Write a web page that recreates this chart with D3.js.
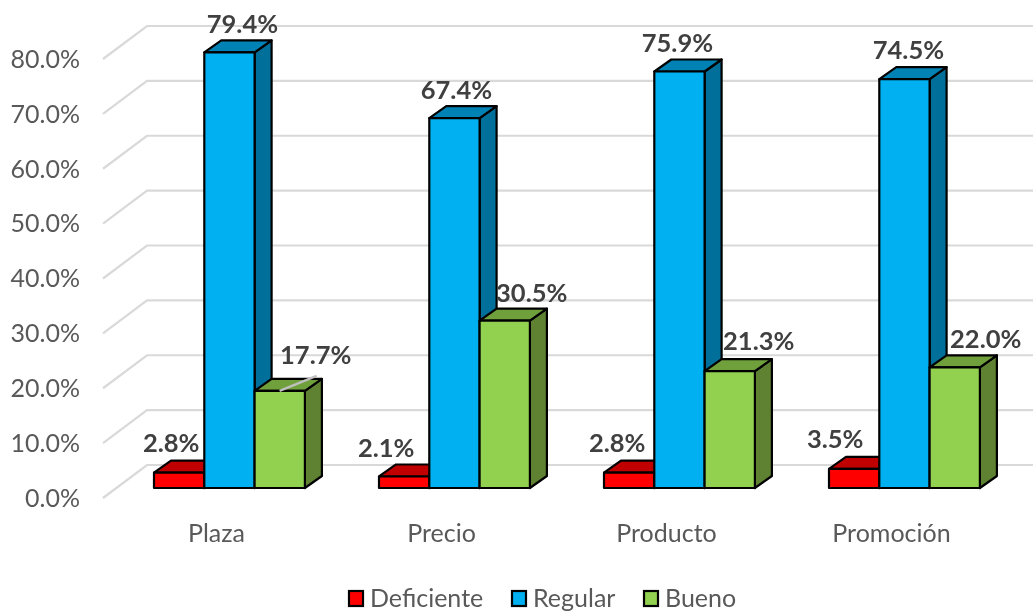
<!DOCTYPE html>
<html>
<head>
<meta charset="utf-8">
<script src="https://cdn.jsdelivr.net/npm/d3@7"></script>
<style>
  html, body { margin: 0; padding: 0; background: #fff; overflow: hidden; }
  text { font-family: Lato, "Open Sans", sans-serif; }
  svg { filter: blur(0.4px); }
</style>
</head>
<body>
<div id="chart"></div>
<script>
// values
var categories = ["Plaza", "Precio", "Producto", "Promoción"];
var seriesNames = ["Deficiente", "Regular", "Bueno"];
var deficiente = [2.8, 2.1, 2.8, 3.5];
var regular = [79.4, 67.4, 75.9, 74.5];
var bueno = [17.7, 30.5, 21.3, 22.0];
var yTicks = [0, 10, 20, 30, 40, 50, 60, 70, 80];

var seriesValues = [deficiente, regular, bueno];
var faceColors = ["#ff0000", "#00b0f0", "#92d050"];
var topColors = ["#c00000", "#0083b4", "#6fa03c"];
var sideColors = ["#a80000", "#006f99", "#5f8232"];

// label nudges from the bar centre, [dx, dy], per series then per category
var labelNudge = [
  [[-8, -30], [-18, -28], [-12, -30], [-19, -30]],
  [[13, -28], [2, -28], [-2, -28], [4, -29]],
  [[36, -36], [27, -28], [29, -30], [31, -28]]
];

var width = 1033, height = 611;
var depthX = 17, depthY = 12;

var svg = d3.select("#chart").append("svg")
  .attr("width", width)
  .attr("height", height);

// y scale is for the front face of the bars
var y = d3.scaleLinear().domain([0, 80]).range([488, 49]);

// x scale: each band holds the three bars of a category
var x = d3.scaleBand()
  .domain(categories)
  .range([154, 1054])
  .paddingInner(0);
var barW = 50.3;

var x1 = d3.scaleBand()
  .domain(d3.range(3))
  .range([0, barW * 3]);

// gridlines: floor goes from the front left corner to the back wall
var grid = svg.append("g");
yTicks.forEach(function(t) {
  var yy = y(t) + 10;
  grid.append("path")
    .attr("d", "M103," + yy + "L147," + (yy - 33) + "L" + width + "," + (yy - 33))
    .attr("fill", "none")
    .attr("stroke", "#d9d9d9")
    .attr("stroke-width", 2.2);
  svg.append("text")
    .attr("x", 80)
    .attr("y", yy)
    .attr("dy", "0.35em")
    .attr("text-anchor", "end")
    .attr("font-size", 25)
    .attr("fill", "#595959")
    .text(t.toFixed(1) + "%");
});

// bars, drawn in order so the next one covers the side of the last
var bars = svg.append("g");
categories.forEach(function(c, i) {
  seriesValues.forEach(function(vals, s) {
    var x0 = x(c) + x1(s), x2 = x0 + barW;
    var top = y(vals[i]), bot = y(0);
    var g = bars.append("g")
      .attr("stroke", "#000")
      .attr("stroke-width", 2.2)
      .attr("stroke-linejoin", "round");
    g.append("path")
      .attr("fill", sideColors[s])
      .attr("d", "M" + x2 + "," + top + "L" + (x2 + depthX) + "," + (top - depthY) +
        "L" + (x2 + depthX) + "," + (bot - depthY) + "L" + x2 + "," + bot + "Z");
    g.append("path")
      .attr("fill", topColors[s])
      .attr("d", "M" + x0 + "," + top + "L" + (x0 + depthX) + "," + (top - depthY) +
        "L" + (x2 + depthX) + "," + (top - depthY) + "L" + x2 + "," + top + "Z");
    g.append("rect")
      .attr("x", x0)
      .attr("y", top)
      .attr("width", barW)
      .attr("height", bot - top)
      .attr("fill", faceColors[s]);
  });
});

// leader line on the Plaza / Bueno label
var lx = x("Plaza") + x1(2);
svg.append("line")
  .attr("x1", lx + 25).attr("y1", y(bueno[0]))
  .attr("x2", lx + 62).attr("y2", y(bueno[0]) - 15)
  .attr("stroke", "#bfbfbf")
  .attr("stroke-width", 2.2);

// data labels
categories.forEach(function(c, i) {
  seriesValues.forEach(function(vals, s) {
    svg.append("text")
      .attr("x", x(c) + x1(s) + barW / 2 + labelNudge[s][i][0])
      .attr("y", y(vals[i]) + labelNudge[s][i][1])
      .attr("dy", "0.35em")
      .attr("text-anchor", "middle")
      .attr("font-size", 25.5)
      .attr("font-weight", 700)
      .attr("fill", "#404040")
      .text(vals[i].toFixed(1) + "%");
  });
});

// category labels
categories.forEach(function(c) {
  svg.append("text")
    .attr("x", x(c) + 62.5)
    .attr("y", 533)
    .attr("dy", "0.35em")
    .attr("text-anchor", "middle")
    .attr("font-size", 25)
    .attr("fill", "#595959")
    .text(c);
});

// legend
var legendX = [349, 512, 644];
seriesNames.forEach(function(n, s) {
  svg.append("rect")
    .attr("x", legendX[s])
    .attr("y", 591)
    .attr("width", 14)
    .attr("height", 15)
    .attr("fill", faceColors[s])
    .attr("stroke", "#000")
    .attr("stroke-width", 2.2);
  svg.append("text")
    .attr("x", legendX[s] + 21)
    .attr("y", 598)
    .attr("dy", "0.35em")
    .attr("font-size", 25)
    .attr("fill", "#595959")
    .text(n);
});
</script>
</body>
</html>
